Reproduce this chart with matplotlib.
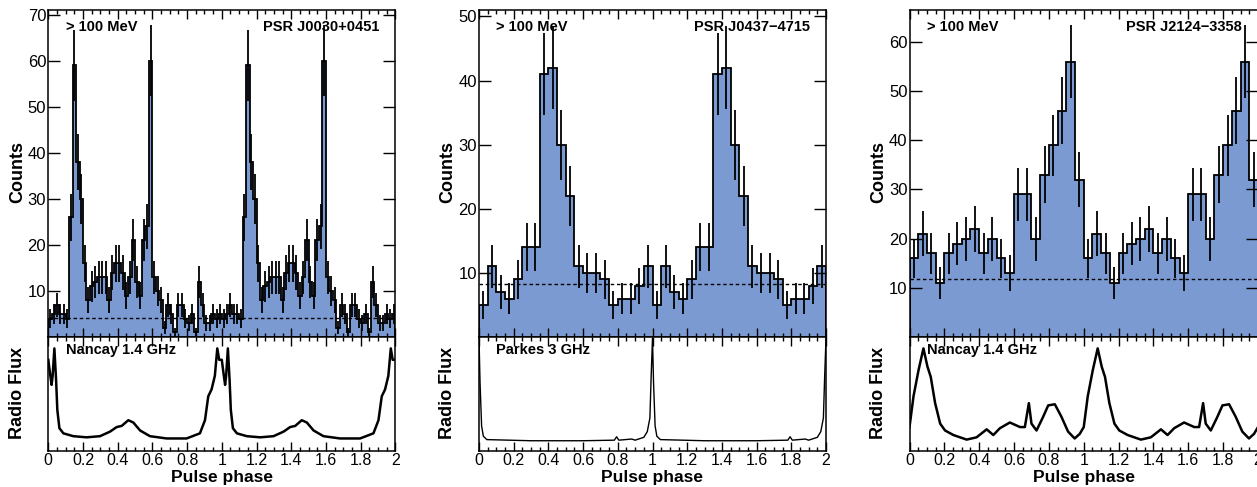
import numpy as np
import matplotlib
matplotlib.use("Agg")
import matplotlib.pyplot as plt
from matplotlib.ticker import MultipleLocator, FuncFormatter

plt.rcParams['font.family'] = ['Liberation Sans', 'DejaVu Sans']

# gamma-ray light curves (counts per bin, one rotation; drawn twice)
j0030_counts = [4, 5, 7, 5, 5, 4, 26, 59, 38, 30, 16, 8, 11, 12, 13, 13, 13, 8, 14, 16,
                16, 14, 9, 13, 21, 12, 9, 21, 24, 60, 13, 10, 8, 2, 7, 5, 1, 7, 7, 4,
                3, 5, 1, 12, 7, 3, 3, 5, 4, 5]
j0437_counts = [5, 11, 7, 6, 9, 14, 14, 41, 42, 30, 22, 11, 10, 10, 9, 5, 6, 6, 8, 11]
j2124_counts = [16, 21, 17, 11, 17, 19, 20, 22, 17, 20, 16, 13, 29, 29, 20, 33, 39, 46, 56, 32]

# background levels (dashed lines)
backgrounds = [4.06, 8.3, 11.7]
ymax = [71, 51, 66.5]

# radio profiles (normalised, one rotation)
j0030_radio_phase = [0.000, 0.010, 0.019, 0.025, 0.035, 0.045, 0.052, 0.064, 0.087, 0.144,
                     0.221, 0.298, 0.356, 0.394, 0.423, 0.461, 0.490, 0.529, 0.586, 0.682,
                     0.797, 0.874, 0.903, 0.922, 0.941, 0.960, 0.974, 0.985]
j0030_radio_flux = [0.80, 0.68, 0.58, 0.66, 0.90, 0.62, 0.36, 0.20, 0.155, 0.13,
                    0.12, 0.13, 0.17, 0.21, 0.22, 0.27, 0.25, 0.18, 0.13, 0.11,
                    0.11, 0.155, 0.27, 0.48, 0.54, 0.66, 0.90, 0.80]
j0437_radio_phase = [0.000, 0.006, 0.015, 0.025, 0.045, 0.300, 0.600, 0.780, 0.793, 0.806,
                     0.880, 0.900, 0.950, 0.970, 0.985, 0.992]
j0437_radio_flux = [0.99, 0.60, 0.22, 0.13, 0.10, 0.09, 0.09, 0.095, 0.125, 0.095,
                    0.105, 0.095, 0.12, 0.17, 0.29, 0.64]
j2124_radio_phase = [0.000, 0.023, 0.052, 0.080, 0.103, 0.122, 0.147, 0.176, 0.204, 0.252,
                     0.328, 0.385, 0.443, 0.481, 0.519, 0.576, 0.634, 0.662, 0.685, 0.700,
                     0.729, 0.767, 0.796, 0.834, 0.872, 0.910, 0.948, 0.977]
j2124_radio_flux = [0.21, 0.48, 0.71, 0.90, 0.74, 0.65, 0.42, 0.24, 0.18, 0.14,
                    0.10, 0.12, 0.19, 0.14, 0.20, 0.25, 0.21, 0.21, 0.42, 0.24,
                    0.18, 0.30, 0.40, 0.41, 0.30, 0.17, 0.11, 0.15]

names = ['PSR J0030+0451', 'PSR J0437\u22124715', 'PSR J2124\u22123358']
radio_names = ['Nancay 1.4 GHz', 'Parkes 3 GHz', 'Nancay 1.4 GHz']
counts_all = [j0030_counts, j0437_counts, j2124_counts]
radio_all = [(j0030_radio_phase, j0030_radio_flux),
             (j0437_radio_phase, j0437_radio_flux),
             (j2124_radio_phase, j2124_radio_flux)]
radio_lw = [1.8, 1.0, 1.8]

W, H = 1257, 487
fig = plt.figure(figsize=(W / 100, H / 100), dpi=100)

lefts = [48.3, 479.0, 909.5]
widths = [347.0, 347.0, 348.5]
top_y0, top_y1 = 337, 10
low_y0, low_y1 = 451, 337

fill_color = '#7b9ad2'

for i in range(3):
    l = lefts[i] / W
    w = widths[i] / W
    ax = fig.add_axes([l, (H - top_y0) / H, w, (top_y0 - top_y1) / H])
    axr = fig.add_axes([l, (H - low_y0) / H, w, (low_y0 - low_y1) / H])

    c = np.array(counts_all[i], dtype=float)
    nb = len(c)
    vals = np.tile(c, 2)
    edges = np.arange(2 * nb + 1) / nb
    centers = 0.5 * (edges[:-1] + edges[1:])

    ax.stairs(vals, edges, fill=True, color=fill_color, lw=0)
    ax.stairs(vals, edges, color='black', lw=1.3)
    ax.errorbar(centers, vals, yerr=np.sqrt(vals), fmt='none', ecolor='black',
                elinewidth=1.3, capsize=0)
    ax.axhline(backgrounds[i], color='black', lw=1.0, ls=(0, (2.5, 2)))

    ax.set_xlim(0, 2)
    ax.set_ylim(0, ymax[i])
    ax.set_yticks(np.arange(10, ymax[i], 10))
    ax.xaxis.set_major_locator(MultipleLocator(0.2))
    ax.xaxis.set_minor_locator(MultipleLocator(0.05))
    ax.tick_params(axis='both', which='both', direction='in', top=True, right=True,
                   labelbottom=False, labelsize=12, pad=1.5)
    ax.tick_params(axis='y', which='major', length=8.6, width=1.0)
    ax.tick_params(axis='x', which='major', length=6.5, width=1.0)
    ax.tick_params(axis='x', which='minor', length=3.2, width=1.0)
    for s in ax.spines.values():
        s.set_linewidth(1.1)
    ax.text(0.05, 0.936, '> 100 MeV', transform=ax.transAxes, fontsize=10.5,
            fontweight='bold', ha='left', va='baseline')
    ax.text(0.953, 0.936, names[i], transform=ax.transAxes, fontsize=10.5,
            fontweight='bold', ha='right', va='baseline')

    # radio profile
    ph, fl = radio_all[i]
    ph = np.array(ph)
    fl = np.array(fl)
    x = np.concatenate([ph, ph + 1, [2.0]])
    y = np.concatenate([fl, fl, [fl[0]]])
    axr.plot(x, y, color='black', lw=radio_lw[i])
    axr.set_xlim(0, 2)
    axr.set_ylim(0, 1)
    axr.set_yticks([])
    axr.xaxis.set_major_locator(MultipleLocator(0.2))
    axr.xaxis.set_minor_locator(MultipleLocator(0.05))
    axr.xaxis.set_major_formatter(FuncFormatter(lambda v, p: '%g' % round(v, 2)))
    axr.tick_params(axis='x', which='both', direction='in', top=True,
                    labelsize=11.5, pad=1.5)
    axr.tick_params(axis='x', which='major', length=6.5, width=1.0)
    axr.tick_params(axis='x', which='minor', length=3.2, width=1.0)
    for s in axr.spines.values():
        s.set_linewidth(1.1)
    axr.text(0.05, 0.855, radio_names[i], transform=axr.transAxes, fontsize=10.5,
             fontweight='bold', ha='left', va='baseline')

    # axis titles
    xl = (lefts[i] - 31) / W
    fig.text(xl, (H - 172) / H, 'Counts', rotation=90, fontsize=13,
             fontweight='bold', ha='center', va='center')
    fig.text(xl, (H - 393) / H, 'Radio Flux', rotation=90, fontsize=13,
             fontweight='bold', ha='center', va='center')
    fig.text((lefts[i] + widths[i] / 2) / W, (H - 482) / H, 'Pulse phase',
             fontsize=12.5, fontweight='bold', ha='center', va='baseline')

fig.savefig('out.png', dpi=100)
